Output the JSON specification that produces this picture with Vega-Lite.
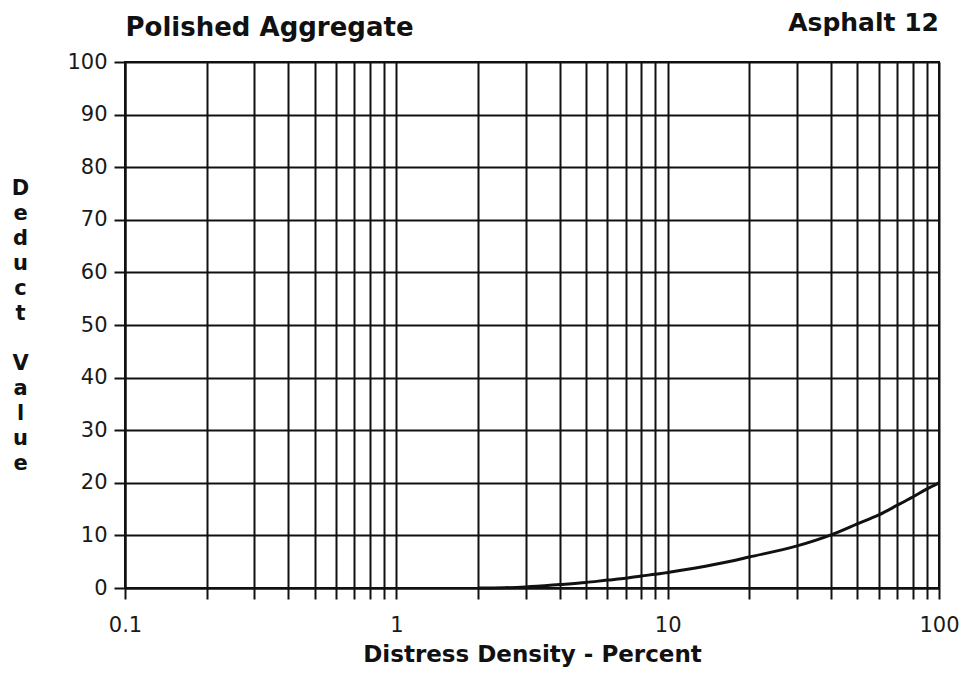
{
  "$schema": "https://vega.github.io/schema/vega-lite/v6.json",
  "width": 814,
  "height": 526,
  "autosize": "none",
  "padding": {"left": 125, "top": 62, "right": 25, "bottom": 85},
  "background": "white",
  "title": {
    "text": "Asphalt 12",
    "anchor": "end",
    "frame": "group",
    "font": "DejaVu Sans",
    "fontSize": 25,
    "fontWeight": "bold",
    "color": "#111",
    "baseline": "alphabetic",
    "offset": 0,
    "dy": 42
  },
  "config": {
    "view": {"stroke": "#111", "strokeWidth": 2},
    "axis": {
      "labelFont": "DejaVu Sans",
      "titleFont": "DejaVu Sans",
      "labelColor": "#1a1a1a",
      "titleColor": "#111",
      "gridColor": "#111",
      "gridOpacity": 1,
      "gridWidth": 2,
      "tickColor": "#111",
      "tickWidth": 2,
      "domainColor": "#111",
      "domainWidth": 2
    }
  },
  "data": {
    "values": [
      {"density": 2, "deduct": 0},
      {"density": 2.5, "deduct": 0.05},
      {"density": 3, "deduct": 0.2},
      {"density": 4, "deduct": 0.65},
      {"density": 5, "deduct": 1.05},
      {"density": 6, "deduct": 1.5},
      {"density": 7, "deduct": 1.85},
      {"density": 8, "deduct": 2.3},
      {"density": 9, "deduct": 2.6},
      {"density": 10, "deduct": 2.95},
      {"density": 15, "deduct": 4.5},
      {"density": 20, "deduct": 5.9},
      {"density": 30, "deduct": 8.0},
      {"density": 40, "deduct": 10.1},
      {"density": 50, "deduct": 12.2},
      {"density": 60, "deduct": 13.9},
      {"density": 70, "deduct": 15.7},
      {"density": 80, "deduct": 17.3},
      {"density": 90, "deduct": 18.8},
      {"density": 100, "deduct": 20}
    ]
  },
  "resolve": {"axis": {"x": "independent", "y": "independent"}},
  "layer": [
    {
      "mark": {"type": "line", "strokeOpacity": 0},
      "encoding": {
        "x": {
          "field": "density",
          "type": "quantitative",
          "scale": {"type": "log", "domain": [0.1, 100], "nice": false},
          "axis": {
            "orient": "bottom",
            "values": [0.1,0.2,0.3,0.4,0.5,0.6,0.7,0.8,0.9,1,2,3,4,5,6,7,8,9,10,20,30,40,50,60,70,80,90,100],
            "grid": true,
            "tickSize": 11,
            "labelExpr": "datum.value == 0.1 ? '0.1' : datum.value == 1 ? '1' : datum.value == 10 ? '10' : datum.value == 100 ? '100' : ''",
            "labelOverlap": false,
            "labelFlush": false,
            "labelFontSize": 21,
            "labelPadding": 15,
            "title": "Distress Density - Percent",
            "titleFontSize": 23,
            "titleFontWeight": "bold",
            "titlePadding": 8
          }
        },
        "y": {
          "field": "deduct",
          "type": "quantitative",
          "scale": {"domain": [0, 100], "nice": false},
          "axis": {
            "values": [0,10,20,30,40,50,60,70,80,90,100],
            "grid": true,
            "tickSize": 11,
            "labelFontSize": 21,
            "labelPadding": 7,
            "title": ["D","e","d","u","c","t","\u200b","V","a","l","u","e"],
            "titleAngle": 0,
            "titleFontSize": 21,
            "titleFontWeight": "bold",
            "titleLineHeight": 25,
            "titleBaseline": "middle",
            "titleAlign": "center",
            "titleX": -105,
            "titleY": 126
          }
        }
      }
    },
    {
      "mark": {"type": "line", "color": "#111", "strokeWidth": 3, "interpolate": "monotone"},
      "encoding": {
        "x": {
          "field": "density",
          "type": "quantitative",
          "scale": {"type": "log", "domain": [0.1, 100], "nice": false},
          "axis": {
            "orient": "top",
            "labels": false,
            "ticks": false,
            "domain": false,
            "grid": false,
            "title": "Polished Aggregate",
            "titleAnchor": "start",
            "titleAlign": "left",
            "titleBaseline": "alphabetic",
            "titleFontSize": 26,
            "titleFontWeight": "bold",
            "titlePadding": 27
          }
        },
        "y": {
          "field": "deduct",
          "type": "quantitative",
          "scale": {"domain": [0, 100], "nice": false},
          "axis": null
        }
      }
    }
  ]
}
